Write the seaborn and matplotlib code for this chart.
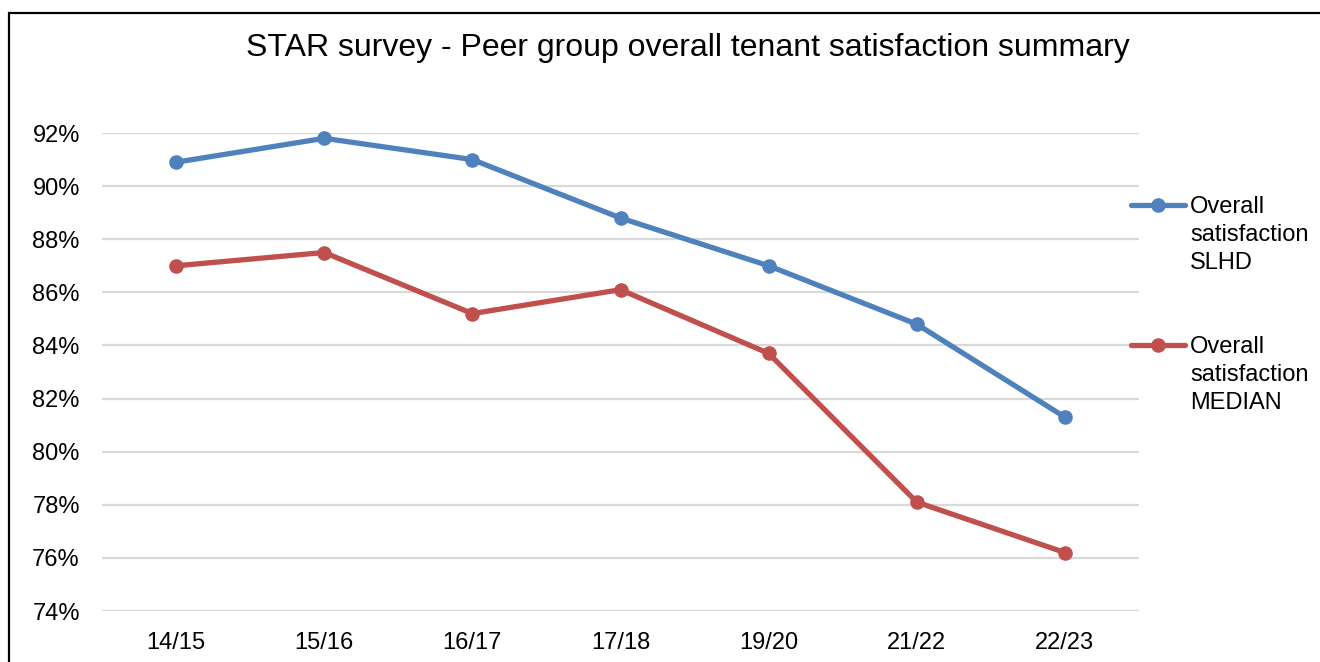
import matplotlib
matplotlib.use("Agg")
import matplotlib.pyplot as plt
import pandas as pd
import seaborn as sns
from matplotlib.lines import Line2D
from matplotlib.patches import Rectangle
from matplotlib.ticker import FuncFormatter

# values
years = ["14/15", "15/16", "16/17", "17/18", "19/20", "21/22", "22/23"]
slhd = [90.9, 91.8, 91.0, 88.8, 87.0, 84.8, 81.3]
median = [87.0, 87.5, 85.2, 86.1, 83.7, 78.1, 76.2]
series_names = ["Overall\nsatisfaction\nSLHD", "Overall\nsatisfaction\nMEDIAN"]
colors = ["#4F81BD", "#C0504D"]
y_ticks = [74, 76, 78, 80, 82, 84, 86, 88, 90, 92]

df = pd.concat(
    [
        pd.DataFrame({"year": years, "pct": slhd, "series": series_names[0]}),
        pd.DataFrame({"year": years, "pct": median, "series": series_names[1]}),
    ],
    ignore_index=True,
)

sns.set_theme(style="white")
plt.rcParams["font.family"] = ["Liberation Sans", "DejaVu Sans"]

W, H = 1320, 662
fig = plt.figure(figsize=(W / 100, H / 100), dpi=100)
ax = fig.add_axes([102 / W, 1 - 611 / H, (1139 - 102) / W, (611 - 133) / H])

sns.lineplot(
    data=df, x="year", y="pct", hue="series", palette=colors,
    marker="o", markersize=10.5, markeredgewidth=0, linewidth=3.8,
    sort=False, legend=False, ax=ax,
)

ax.set_xlim(-0.5, len(years) - 0.5)
ax.set_ylim(74, 92)
ax.set_yticks(y_ticks)
ax.yaxis.set_major_formatter(FuncFormatter(lambda v, _: f"{v:.0f}%"))
ax.grid(axis="y", color="#D9D9D9", linewidth=1.6)
ax.set_axisbelow(True)
for s in ax.spines.values():
    s.set_visible(False)
ax.tick_params(axis="y", length=0, pad=16, labelsize=17, labelcolor="black")
ax.tick_params(axis="x", length=0, pad=15, labelsize=17, labelcolor="black")
ax.set_xlabel("")
ax.set_ylabel("")
for ln in ax.get_lines():
    ln.set_clip_on(False)

fig.text(688 / W, 1 - 48 / H, "STAR survey - Peer group overall tenant satisfaction summary",
         ha="center", va="center", fontsize=23, color="black")

# legend on the right, handle lined up with the first text line
for i, (name, c) in enumerate(zip(series_names, colors)):
    y = 1 - (205 + 140 * i) / H
    fig.add_artist(Line2D([1131 / W, 1185 / W], [y, y], transform=fig.transFigure,
                          color=c, linewidth=3.8, solid_capstyle="round"))
    fig.add_artist(Line2D([1158 / W], [y], transform=fig.transFigure, color=c,
                          marker="o", markersize=10.5, markeredgewidth=0))
    fig.text(1190 / W, y + 9 / H, name, ha="left", va="top", fontsize=17,
             linespacing=1.36, color="black")

# outer chart frame (right and bottom edges are cropped off in the reference)
fig.add_artist(Rectangle((9 / W, -0.1), 1.2, 1 - 13 / H + 0.1, transform=fig.transFigure,
                         fill=False, edgecolor="black", linewidth=1.6))

fig.savefig("out.png", dpi=100)
